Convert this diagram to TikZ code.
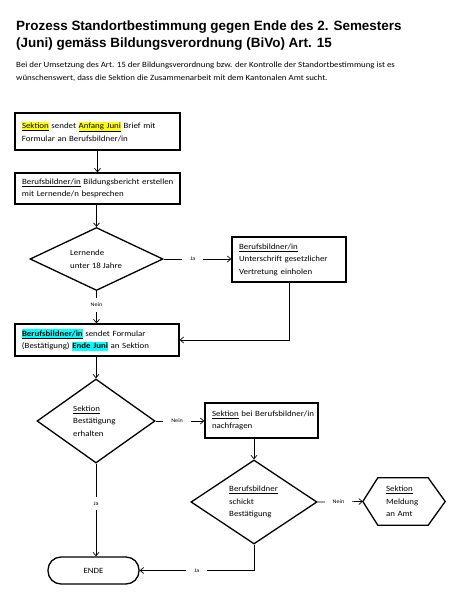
\documentclass[tikz,border=0pt]{standalone}
\usepackage{fontspec}
\setmainfont{Carlito}[FakeStretch=1.11]
\newfontfamily\titlefont{Liberation Sans}
\usetikzlibrary{shapes.geometric,arrows.meta}
\definecolor{hlyellow}{RGB}{255,255,0}
\definecolor{hlcyan}{RGB}{0,255,255}
\newcommand{\hlmark}[2]{{\setlength{\fboxsep}{0pt}\colorbox{#1}{\rule[-2.2pt]{0pt}{9.2pt}#2}}}
\newcommand{\bodyfont}{\fontsize{8}{12.5}\selectfont}
\begin{document}
\begin{tikzpicture}[x=1pt,y=-1pt,
  box/.style={draw, line width=1.3pt, rectangle, inner ysep=0pt, inner xsep=7pt, align=left, font=\bodyfont},
  dia/.style={draw, diamond, line width=1.3pt, inner sep=0pt},
  txt/.style={inner sep=0pt, align=left, font=\bodyfont},
  conn/.style={draw, line width=0.7pt, -{Straight Barb[length=3.5pt,width=6pt]}},
  lbl/.style={fill=white, font=\fontsize{5.5}{7}\selectfont, inner xsep=8pt, inner ysep=5pt},
  ttl/.style={inner sep=0pt, anchor=base west, font=\titlefont\bfseries\fontsize{13.45}{17}\selectfont},
  para/.style={inner sep=0pt, anchor=base west, font=\bodyfont}]
\useasboundingbox (0,0) rectangle (454,600);
% title and intro
\node[ttl] (t1) at (16,30) {Prozess Standortbestimmung gegen Ende des 2. Semesters};
\node[ttl] (t2) at (16,47) {(Juni) gemäss Bildungsverordnung (BiVo) Art. 15};
\node[para] (p1) at (16,67) {Bei der Umsetzung des Art. 15 der Bildungsverordnung bzw. der Kontrolle der Standortbestimmung ist es};
\node[para] (p2) at (16,80) {wünschenswert, dass die Sektion die Zusammenarbeit mit dem Kantonalen Amt sucht.};
% boxes
\node[box, minimum width=165pt, minimum height=37pt, text width=151pt] (b1) at (97.5,131.5)
  {\mbox{\hlmark{hlyellow}{\underline{Sektion}} sendet \hlmark{hlyellow}{\underline{Anfang Juni}} Brief mit}\\\mbox{Formular an Berufsbildner/in}};
\node[box, minimum width=165pt, minimum height=31pt, text width=151pt] (b2) at (97.5,188.5)
  {\mbox{\underline{Berufsbildner/in} Bildungsbericht erstellen}\\\mbox{mit Lernende/n besprechen}};
\node[dia, minimum width=133pt, minimum height=63pt] (d1) at (96.5,259) {};
\node[txt, anchor=west] (d1t) at (70,259) {Lernende\\unter 18 Jahre};
\node[box, minimum width=114pt, minimum height=45pt, text width=100pt] (b3) at (289,259.5)
  {\mbox{\underline{Berufsbildner/in}}\\\mbox{Unterschrift gesetzlicher}\\\mbox{Vertretung einholen}};
\node[box, minimum width=164pt, minimum height=32pt, text width=150pt] (b4) at (97,340)
  {\mbox{\hlmark{hlcyan}{\textbf{\underline{Berufsbildner/in}}} sendet Formular}\\\mbox{(Bestätigung) \hlmark{hlcyan}{\textbf{Ende Juni}} an Sektion}};
\node[dia, minimum width=118pt, minimum height=84pt] (d2) at (96,421) {};
\node[txt, anchor=west] (d2t) at (73,421) {\underline{Sektion}\\Bestätigung\\erhalten};
\node[box, minimum width=113pt, minimum height=35pt, text width=99pt] (b5) at (261.5,420.5)
  {\mbox{\underline{Sektion} bei Berufsbildner/in}\\\mbox{nachfragen}};
\node[dia, minimum width=126pt, minimum height=84pt] (d3) at (254,502) {};
\node[txt, anchor=west] (d3t) at (229,502) {\underline{Berufsbildner}\\schickt\\Bestätigung};
\node[txt, minimum width=82pt, minimum height=47pt, text width=36pt] (hex) at (404,501.5)
  {\underline{Sektion}\\Meldung\\an Amt};
\draw[line width=1.3pt] (hex.west) -- ([xshift=15pt]hex.north west) -- ([xshift=-17pt]hex.north east)
  -- (hex.east) -- ([xshift=-17pt]hex.south east) -- ([xshift=15pt]hex.south west) -- cycle;
\node[draw, line width=1.3pt, rounded corners=13pt, minimum width=91pt, minimum height=27pt,
  inner sep=0pt, font=\bodyfont] (ende) at (93.5,570.5) {ENDE};
% connectors
\draw[conn] (b1.south) -- (b2.north);
\draw[conn] (b2.south -| d1.north) -- (d1.north);
\draw[conn] (d1.east) -- node[lbl, pos=0.43] {Ja} (d1.east -| b3.west);
\draw[conn] (d1.south) -- node[lbl, pos=0.42] {Nein} (d1.south |- b4.north);
\draw[conn] (b3.south) |- (b4.east);
\draw[conn] (b4.south -| d2.north) -- (d2.north);
\draw[conn] (d2.east) -- node[lbl, pos=0.44] {Nein} (d2.east -| b5.west);
\draw[conn] (b5.south -| d3.north) -- (d3.north);
\draw[conn] (d3.east) -- node[lbl, pos=0.46] {Nein} (hex.west);
\draw[conn] (d2.south) -- node[lbl, pos=0.43] {Ja} (d2.south |- ende.north);
\draw[conn] (d3.south) |- node[lbl, pos=0.75] {Ja} (ende.east);
\end{tikzpicture}
\end{document}
